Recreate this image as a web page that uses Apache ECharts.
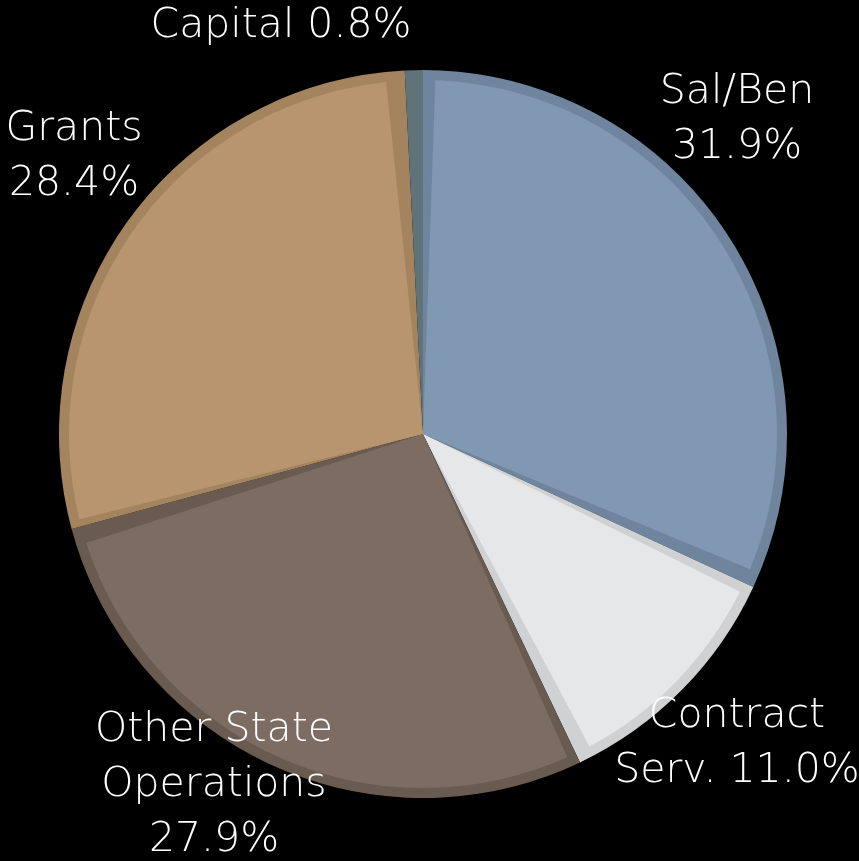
<!DOCTYPE html>
<html>
<head>
<meta charset="utf-8">
<title>Budget by category</title>
<script src="https://cdn.jsdelivr.net/npm/echarts@6/dist/echarts.min.js"></script>
<style>
  html, body { margin: 0; padding: 0; background: #000; }
  #main { width: 859px; height: 861px; }
</style>
</head>
<body>
<div id="main"></div>
<script>
// 数据
var categories = ['Sal/Ben', 'Contract\nServ.', 'Other State\nOperations', 'Grants', 'Capital'];
var shares = [31.9, 11.0, 27.9, 28.4, 0.8];
// 名称和百分比之间的分隔
var labelSep = ['\n', ' ', '\n', '\n', ' '];

// 颜色: 内部填充 / 边框
var fillColors = ['#8098b1', '#e6e7e8', '#7c6c61', '#b8956f', '#5f7378'];
var edgeColors = ['#6f859d', '#cfd1d2', '#6a5b51', '#a4845f', '#5f7378'];
// 标签位置
var labelX = [737, 737, 214, 74, 281];
var labelY = [120, 744, 785, 157, 26];

(function () {
    var chart = echarts.init(document.getElementById('main'));

    var backData = categories.map(function (c, i) {
        return { name: c, value: shares[i], itemStyle: { color: edgeColors[i] } };
    });
    var frontData = categories.map(function (c, i) {
        return { name: c, value: shares[i], itemStyle: { color: fillColors[i] } };
    });

    var option = {
        backgroundColor: '#000',
        animation: false,
        series: [
            {
                // 底层: 边框颜色
                type: 'pie',
                center: [423, 434],
                radius: [0, 364],
                startAngle: 90,
                clockwise: true,
                silent: true,
                label: { show: false },
                labelLine: { show: false },
                data: backData
            },
            {
                // 上层: 填充颜色, 留出边框
                type: 'pie',
                center: [423, 434],
                radius: [0, 354],
                startAngle: 90,
                clockwise: true,
                padAngle: 4,
                silent: true,
                avoidLabelOverlap: false,
                label: {
                    show: true,
                    position: 'outside',
                    color: '#fff',
                    fontFamily: 'DejaVu Sans',
                    fontWeight: 200,
                    fontSize: 41,
                    lineHeight: 55,
                    align: 'center',
                    formatter: function (p) {
                        return p.name + labelSep[p.dataIndex] + p.value.toFixed(1) + '%';
                    }
                },
                labelLine: { show: false },
                labelLayout: function (p) {
                    return {
                        x: labelX[p.dataIndex],
                        y: labelY[p.dataIndex],
                        align: 'center',
                        verticalAlign: 'middle'
                    };
                },
                data: frontData
            }
        ]
    };
    chart.setOption(option);
})();
</script>
</body>
</html>
